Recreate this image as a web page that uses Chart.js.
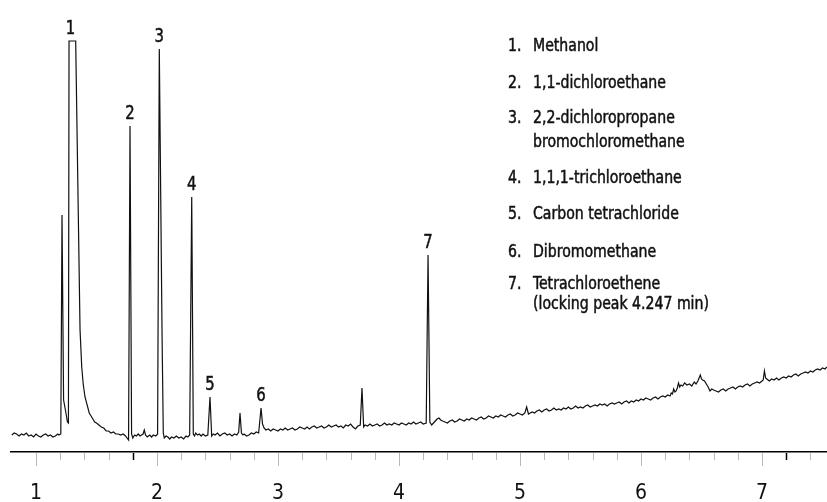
<!DOCTYPE html>
<html>
<head>
<meta charset="utf-8">
<script src="https://cdn.jsdelivr.net/npm/chart.js@4.4.1/dist/chart.umd.min.js"></script>
<style>
	html, body { margin: 0; padding: 0; background: #fff; }
	#wrap { width: 827px; height: 502px; position: relative; }
</style>
</head>
<body>
<div id="wrap"><canvas id="chrom"></canvas></div>
<script>
// retention time (min) and detector response
const retentionTimes = [
	0.80, 0.82, 0.84, 0.86, 0.88, 0.90, 0.92, 0.94, 0.96, 0.98, 1.00, 1.02, 1.04, 1.06, 1.08, 1.10, 1.12, 1.14, 1.16, 1.18, 1.19,
	1.205, 1.215, 1.228, 1.243, 1.26, 1.268, 1.273, 1.328, 1.364, 1.378, 1.39, 1.405,
	1.44, 1.455, 1.47, 1.485, 1.50, 1.52, 1.54, 1.56, 1.58, 1.60, 1.62, 1.64, 1.66, 1.68, 1.70, 1.72, 1.74,
	1.765, 1.777, 1.79, 1.80, 1.815, 1.83, 1.845, 1.86, 1.872, 1.885, 1.895, 1.905, 1.92, 1.94, 1.955, 1.97, 1.99, 2.005,
	2.019, 2.042, 2.046, 2.052, 2.06, 2.075, 2.09, 2.105, 2.12, 2.14, 2.16, 2.18, 2.20, 2.22, 2.24, 2.255, 2.27,
	2.287, 2.30, 2.31, 2.32, 2.335, 2.35, 2.365, 2.38, 2.40, 2.42,
	2.438, 2.452, 2.465, 2.48, 2.50, 2.52, 2.54, 2.56, 2.58, 2.60, 2.62, 2.64, 2.66, 2.675,
	2.686, 2.698, 2.71, 2.72, 2.74, 2.76, 2.78, 2.80, 2.82, 2.84,
	2.86, 2.872, 2.885, 2.90, 2.92, 2.94, 2.96, 2.98, 3.00, 3.02, 3.04, 3.06, 3.08, 3.10,
	3.12, 3.14, 3.16, 3.18, 3.20, 3.22, 3.24, 3.26, 3.28, 3.30, 3.32, 3.34, 3.36, 3.38, 3.40,
	3.42, 3.44, 3.46, 3.48, 3.50, 3.52, 3.54, 3.56, 3.58, 3.60, 3.62, 3.64, 3.66, 3.68,
	3.694, 3.708, 3.72, 3.74, 3.76, 3.78, 3.80, 3.82, 3.84, 3.86, 3.88, 3.90, 3.92, 3.94, 3.96, 3.98,
	4.00, 4.02, 4.04, 4.06, 4.08, 4.10, 4.12, 4.14, 4.16, 4.18, 4.20, 4.225,
	4.24, 4.255, 4.27, 4.285, 4.30, 4.315, 4.33, 4.345, 4.36, 4.38, 4.40, 4.42, 4.44, 4.46, 4.48, 4.50,
	4.52, 4.54, 4.56, 4.58, 4.60, 4.62, 4.64, 4.66, 4.68, 4.70, 4.72, 4.74, 4.76, 4.78, 4.80,
	4.82, 4.84, 4.86, 4.88, 4.90, 4.92, 4.94, 4.96, 4.98, 5.00, 5.02, 5.04, 5.055, 5.07, 5.085, 5.10,
	5.12, 5.14, 5.16, 5.18, 5.20, 5.22, 5.24, 5.26, 5.28, 5.30, 5.32, 5.34, 5.36, 5.38, 5.40,
	5.42, 5.44, 5.46, 5.48, 5.50, 5.52, 5.54, 5.56, 5.58, 5.60, 5.62, 5.64, 5.66, 5.68, 5.70,
	5.72, 5.74, 5.76, 5.78, 5.80, 5.82, 5.84, 5.86, 5.88, 5.90, 5.92, 5.94, 5.96, 5.98, 6.00,
	6.02, 6.04, 6.06, 6.08, 6.10, 6.12, 6.14, 6.16, 6.18, 6.20, 6.22, 6.24, 6.25, 6.26, 6.27,
	6.28, 6.29, 6.30, 6.31, 6.32, 6.33, 6.345, 6.36, 6.38, 6.40, 6.42, 6.44, 6.455, 6.47, 6.49,
	6.50, 6.51, 6.525, 6.54, 6.555, 6.57, 6.585, 6.60, 6.62, 6.64, 6.66, 6.68, 6.70, 6.72, 6.74,
	6.76, 6.78, 6.80, 6.82, 6.84, 6.86, 6.88, 6.90, 6.92, 6.94, 6.96, 6.98, 7.00, 7.01, 7.02,
	7.03, 7.04, 7.06, 7.08, 7.10, 7.12, 7.14, 7.16, 7.18, 7.20, 7.22, 7.24, 7.26, 7.28, 7.30,
	7.32, 7.34, 7.36, 7.38, 7.40, 7.42, 7.44, 7.46, 7.48, 7.50, 7.52, 7.537
];
const detectorSignal = [
	1, 3, 2, 0, 2, 1, 3, 0, 1, -1, 2, 0, -1, 1, 2, 0, 1, -1, 0, 2, 1,
	2, 221, 36, 26, 14, 13, 395, 395, 106, 69, 52, 39,
	23, 20, 17, 14, 13, 11, 9, 8, 5, 5, 3, 4, 2, 2, 1, 2, 0,
	-4, 310, 2, -2, 1, 0, 2, 0, 1, 2, 6, 1, -1, 1, -1, 1, 0, 2,
	387, 99, 99, 3, -2, 0, -1, -3, -1, -2, 0, -2, -1, -3, 0, -1, 1,
	239, 2, 0, 3, 1, 2, 0, 2, 0, 1,
	39, 0, 2, 1, 3, 0, 2, 3, 1, 2, 0, 2, 1, 4,
	23, 3, 1, 2, 0, 1, 3, 2, 4, 3,
	28, 12, 8, 6, 7, 5, 7, 6, 5, 7, 6, 8, 6, 7,
	8, 6, 7, 9, 8, 7, 9, 7, 9, 10, 8, 9, 10, 8, 9,
	11, 9, 10, 11, 9, 10, 8, 11, 10, 12, 9, 7, 10, 11,
	48, 9, 11, 10, 12, 10, 11, 12, 10, 11, 13, 11, 12, 11, 13, 12,
	11, 13, 12, 11, 13, 12, 14, 12, 13, 14, 12, 13,
	181, 14, 11, 13, 15, 17, 18, 16, 15, 14, 13, 15, 16, 14, 15, 17,
	16, 15, 17, 16, 18, 17, 16, 18, 19, 17, 18, 20, 19, 18, 20,
	19, 21, 20, 19, 21, 22, 20, 21, 23, 22, 21, 23, 29, 22, 23, 24,
	23, 25, 26, 24, 26, 27, 25, 26, 28, 26, 27, 26, 28, 27, 29,
	27, 28, 30, 28, 29, 28, 30, 31, 29, 30, 31, 30, 32, 31, 32,
	30, 32, 33, 32, 33, 34, 32, 34, 35, 33, 35, 34, 36, 35, 37,
	36, 38, 37, 36, 38, 39, 37, 39, 40, 39, 41, 40, 43, 42, 47,
	44, 45, 48, 53, 49, 51, 50, 53, 51, 52, 50, 54, 52, 55, 61,
	57, 56, 55, 52, 49, 45, 47, 46, 45, 44, 46, 47, 45, 47, 48,
	49, 47, 49, 50, 49, 51, 52, 50, 52, 53, 54, 53, 55, 56, 65,
	58, 57, 55, 57, 56, 58, 56, 58, 59, 58, 60, 59, 61, 62, 60,
	62, 63, 64, 63, 65, 64, 66, 67, 66, 68, 67, 69
];

// numbered peaks
const peakTimes = [1.285, 1.777, 2.019, 2.287, 2.438, 2.86, 4.24];
const peakNumbers = ['1', '2', '3', '4', '5', '6', '7'];
const compounds = [
	['Methanol'],
	['1,1-dichloroethane'],
	['2,2-dichloropropane', 'bromochloromethane'],
	['1,1,1-trichloroethane'],
	['Carbon tetrachloride'],
	['Dibromomethane'],
	['Tetrachloroethene', '(locking peak 4.247 min)']
];

// time axis
const tickValues = [1.0, 1.2, 1.4, 1.6, 1.8, 2.0, 2.2, 2.4, 2.6, 2.8, 3.0, 3.2, 3.4, 3.6, 3.8,
	4.0, 4.2, 4.4, 4.6, 4.8, 5.0, 5.2, 5.4, 5.6, 5.8, 6.0, 6.2, 6.4, 6.6, 6.8, 7.0, 7.2, 7.4];
const majorTicks = [1, 2, 3, 4, 5, 6, 7];
const tickLabels = ['1', '2', '3', '4', '5', '6', '7'];
const markerTicks = [1.8, 7.2]; // darker marks on the axis

const FONT = "'DejaVu Sans Condensed', 'DejaVu Sans', sans-serif";
const SQUEEZE = 0.87; // the original type is narrower than DejaVu condensed

const points = retentionTimes.map((t, i) => ({ x: t, y: detectorSignal[i] }));

function label(ctx, txt, x, y) {
	ctx.save();
	ctx.translate(x, y);
	ctx.scale(SQUEEZE, 1);
	ctx.fillText(txt, 0, 0);
	ctx.strokeText(txt, 0, 0); // a bit heavier, like the original type
	ctx.restore();
}

// ticks under the axis, peak numbers and the compound list
const annotate = {
	id: 'annotate',
	afterDraw(chart) {
		const ctx = chart.ctx;
		const xs = chart.scales.x;
		const ys = chart.scales.y;
		const axisY = chart.chartArea.bottom;
		ctx.save();

		tickValues.forEach(v => {
			const px = Math.round(xs.getPixelForValue(v)) + 0.5;
			const dark = markerTicks.includes(v);
			const len = majorTicks.includes(v) ? 14 : 8;
			ctx.strokeStyle = dark ? '#000' : '#b8b8b8';
			ctx.lineWidth = dark ? 1.5 : 1;
			ctx.beginPath();
			ctx.moveTo(px, axisY + 1);
			ctx.lineTo(px, axisY + len);
			ctx.stroke();
		});

		ctx.fillStyle = '#111';
		ctx.strokeStyle = '#111';
		ctx.lineWidth = 0.5;
		ctx.textAlign = 'center';
		ctx.textBaseline = 'alphabetic';
		ctx.font = '19px ' + FONT;
		peakTimes.forEach((t, i) => {
			// highest point of the trace near that time
			let top = -Infinity;
			retentionTimes.forEach((rt, j) => {
				if (Math.abs(rt - t) <= 0.03 && detectorSignal[j] > top)
					top = detectorSignal[j];
			});
			label(ctx, peakNumbers[i], xs.getPixelForValue(t), ys.getPixelForValue(top) - 7);
		});

		// compound list
		const lineY = [[51], [88], [123, 147], [183], [219], [257], [289, 309]];
		ctx.textAlign = 'left';
		ctx.font = '18px ' + FONT;
		compounds.forEach((lines, i) => {
			label(ctx, peakNumbers[i] + '.', 508, lineY[i][0]);
			lines.forEach((txt, k) => label(ctx, txt, 533, lineY[i][k]));
		});
		ctx.restore();
	}
};

new Chart(document.getElementById('chrom'), {
	type: 'line',
	data: {
		datasets: [{
			data: points,
			borderColor: '#111',
			borderWidth: 1.2,
			pointRadius: 0,
			tension: 0,
			fill: false
		}]
	},
	options: {
		responsive: true,
		maintainAspectRatio: false,
		animation: false,
		layout: { padding: { left: 11, right: 0, top: 0, bottom: 0 } },
		plugins: { legend: { display: false }, tooltip: { enabled: false } },
		scales: {
			x: {
				type: 'linear',
				min: 0.7934,
				max: 7.5372,
				afterBuildTicks: s => { s.ticks = tickValues.map(v => ({ value: v })); },
				afterFit: s => { s.height = 50; },
				grid: { drawOnChartArea: false, drawTicks: true, tickLength: 14, color: 'rgba(0,0,0,0)' },
				border: { display: true, color: '#000', width: 1.6 },
				ticks: {
					autoSkip: false,
					maxRotation: 0,
					padding: 15,
					color: '#111',
					font: { family: FONT, size: 21 },
					callback: v => {
						const i = majorTicks.indexOf(v);
						return i >= 0 ? tickLabels[i] : '';
					}
				}
			},
			y: {
				type: 'linear',
				display: false,
				min: -16,
				max: 436
			}
		}
	},
	plugins: [annotate]
});
</script>
</body>
</html>
